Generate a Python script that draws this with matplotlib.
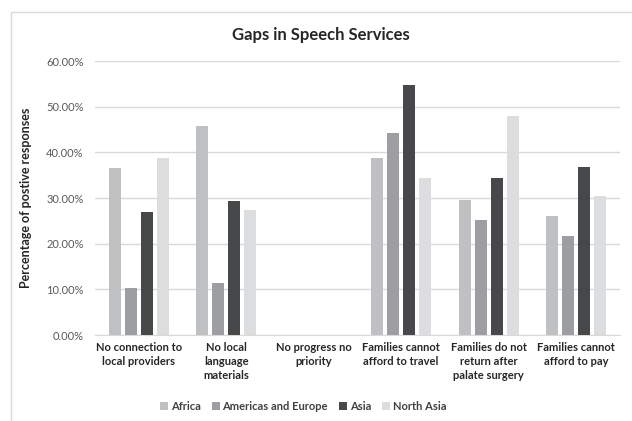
import matplotlib.pyplot as plt
import numpy as np
from matplotlib.patches import Rectangle
from matplotlib.ticker import PercentFormatter

plt.rcParams['font.family'] = ['Lato', 'DejaVu Sans']

categories = ["No connection to\nlocal providers", "No local\nlanguage\nmaterials",
              "No progress no\npriority", "Families cannot\nafford to travel",
              "Families do not\nreturn after\npalate surgery", "Families cannot\nafford to pay"]
regions = ["Africa", "Americas and Europe", "Asia", "North Asia"]
africa = [36.6, 45.8, 0.0, 38.7, 29.5, 26.1]
americas_europe = [10.4, 11.3, 0.0, 44.2, 25.2, 21.6]
asia = [27.0, 29.3, 0.0, 54.8, 34.4, 36.9]
north_asia = [38.8, 27.4, 0.0, 34.3, 48.0, 30.5]
colors = ['#bfc0c2', '#9d9ea1', '#47484a', '#dcdddf']

series = [africa, americas_europe, asia, north_asia]

fig = plt.figure(figsize=(6.32, 4.21), dpi=100)
ax = fig.add_axes([0.150, 0.204, 0.831, 0.651])

# chart frame (only left/top edges visible in the crop)
fig.patches.append(Rectangle((11 / 632, -0.1), 1.2, 1 - 12 / 421 + 0.1,
                             transform=fig.transFigure, fill=False,
                             edgecolor='#d9d9d9', linewidth=1))

x = np.arange(len(categories))
step = 0.183
width = 0.137
for i, (vals, name) in enumerate(zip(series, regions)):
    ax.bar(x + (i - 1.5) * step, vals, width, color=colors[i], label=name, zorder=3)

ax.set_xlim(-0.5, len(categories) - 0.5)
ax.set_ylim(0, 60)
ax.set_yticks(np.arange(0, 61, 10))
ax.yaxis.set_major_formatter(PercentFormatter(decimals=2))
ax.grid(axis='y', color='#d9d9d9', linewidth=1, zorder=0)
for s in ['top', 'right', 'left']:
    ax.spines[s].set_visible(False)
ax.spines['bottom'].set_color('#d9d9d9')
ax.tick_params(axis='both', length=0, colors='#595959', labelsize=8)
ax.tick_params(axis='y', pad=8)
ax.set_xticks(x)
ax.set_xticklabels(categories, fontweight='bold', color='#262626', fontsize=8,
                   linespacing=1.35)
ax.tick_params(axis='x', pad=5)

ax.set_ylabel("Percentage of postive responses", fontweight='bold', fontsize=9,
              color='#262626', labelpad=10)
fig.text(0.507, 0.918, "Gaps in Speech Services", ha='center', va='center',
         fontsize=12, fontweight='bold', color='#262626')

leg = fig.legend(loc='center', bbox_to_anchor=(0.480, 0.035), ncol=4, frameon=False,
                 fontsize=8, handlelength=0.7, handleheight=0.7,
                 columnspacing=1.0, handletextpad=0.25)
for t in leg.get_texts():
    t.set_fontweight('bold')
    t.set_color('#404040')

fig.savefig('out.png', dpi=100)
